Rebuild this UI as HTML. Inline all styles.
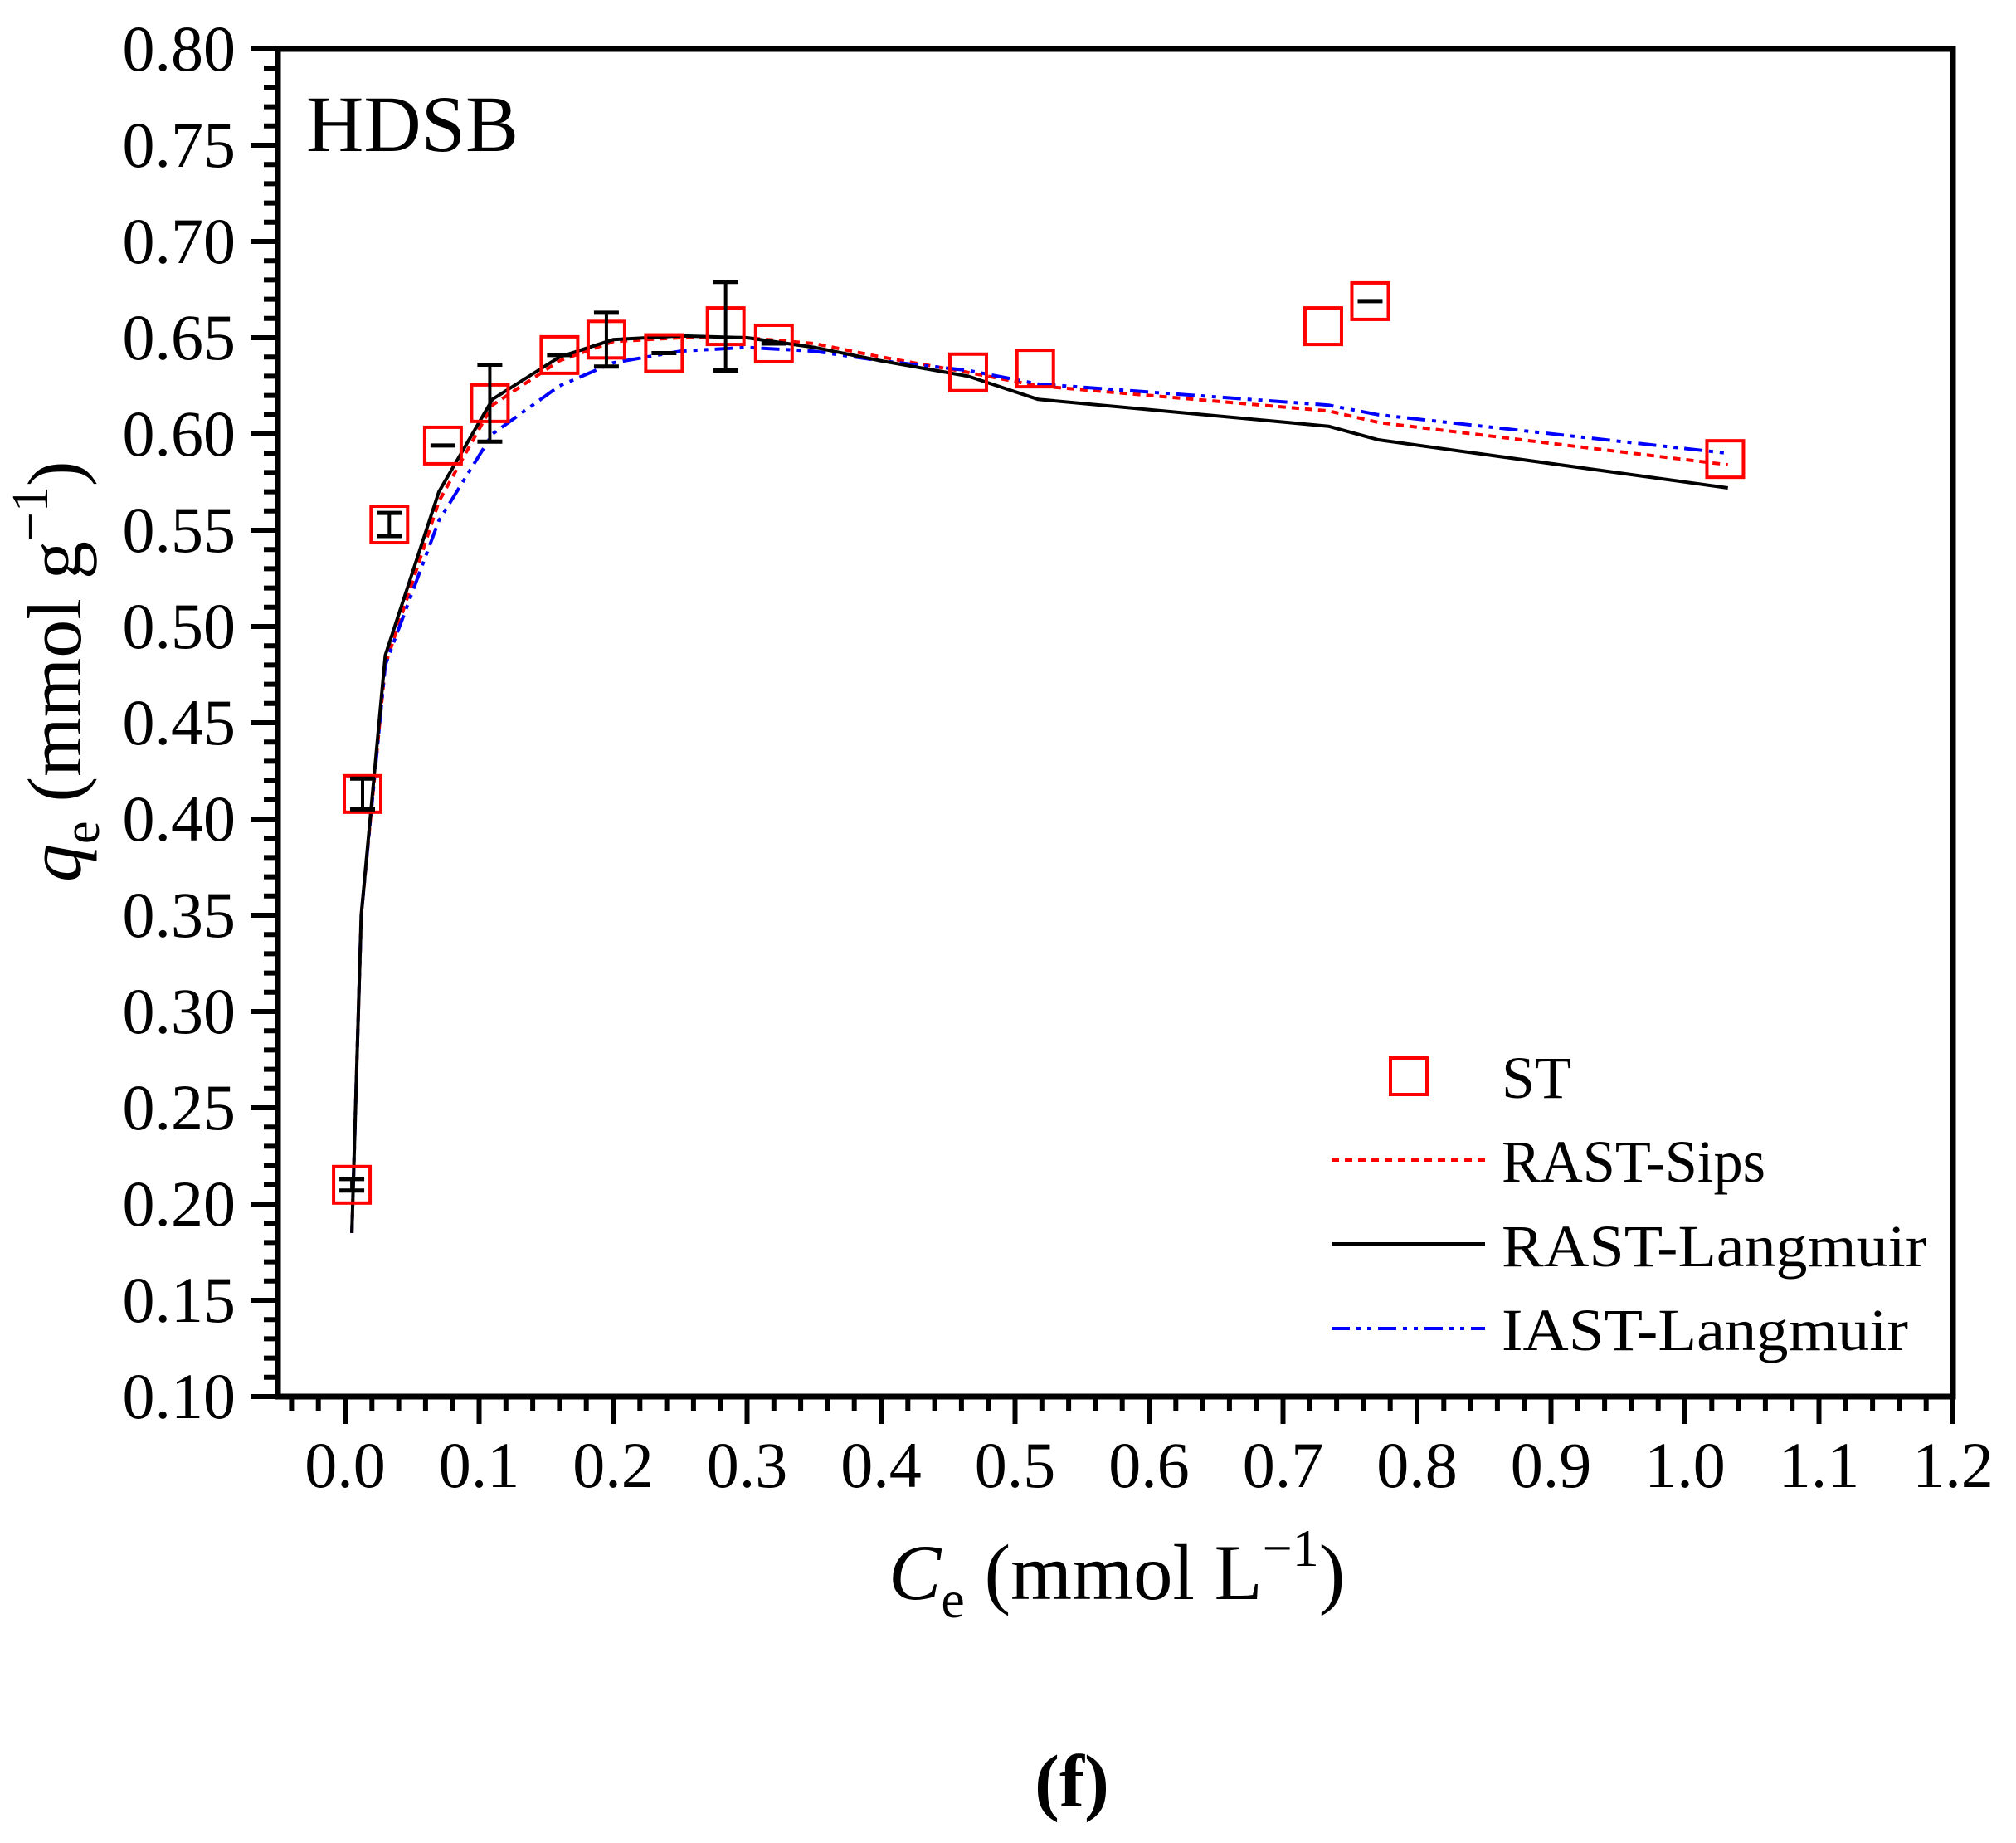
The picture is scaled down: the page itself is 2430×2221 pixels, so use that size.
<!DOCTYPE html>
<html><head><meta charset="utf-8"><style>
html,body{margin:0;padding:0;background:#fff;}
svg{display:block;}
text{font-family:"Liberation Serif",serif;fill:#000;}
</style></head><body>
<svg id="s" width="2430" height="2221" viewBox="0 0 2430 2221" xmlns="http://www.w3.org/2000/svg">
<rect width="2430" height="2221" fill="#fff"/>
<g id="plot"></g>
<text x="369" y="182" font-size="96">HDSB</text>
<!-- legend -->
<rect x="1676" y="1275" width="44" height="44" fill="none" stroke="#f00" stroke-width="4"/>
<text x="1810" y="1323" font-size="72">ST</text>
<line x1="1605" y1="1398" x2="1790" y2="1398" stroke="#f00" stroke-width="4" stroke-dasharray="9,7"/>
<text x="1810" y="1424" font-size="72" textLength="318" lengthAdjust="spacingAndGlyphs">RAST-Sips</text>
<line x1="1605" y1="1499" x2="1790" y2="1499" stroke="#000" stroke-width="4"/>
<text x="1810" y="1526" font-size="72" textLength="512" lengthAdjust="spacingAndGlyphs">RAST-Langmuir</text>
<line x1="1605" y1="1601" x2="1790" y2="1601" stroke="#00f" stroke-width="4" stroke-dasharray="22,8,5,8,5,8"/>
<text x="1810" y="1627" font-size="72" textLength="490" lengthAdjust="spacingAndGlyphs">IAST-Langmuir</text>
<!-- x title -->
<text x="1071" y="1927" font-size="95"><tspan font-style="italic">C</tspan><tspan font-size="64" dy="22">e</tspan><tspan dy="-22"> (mmol L</tspan><tspan font-size="64" dy="-40">−1</tspan><tspan dy="40">)</tspan></text>
<!-- y title -->
<text transform="translate(97,1063) rotate(-90)" font-size="92"><tspan font-style="italic">q</tspan><tspan font-size="62" dy="22">e</tspan><tspan dy="-22"> (mmol g</tspan><tspan font-size="62" dy="-40">−1</tspan><tspan dy="40">)</tspan></text>
<text x="1292" y="2177" font-size="90" font-weight="bold" text-anchor="middle">(f)</text>
</svg>
<script>
(function(){
var NS="http://www.w3.org/2000/svg",g=document.getElementById("plot");
function X(v){return 416+v*1615;}
function Y(q){return 1683-(q-0.1)*2320;}
function el(t,a){var e=document.createElementNS(NS,t);for(var k in a)e.setAttribute(k,a[k]);g.appendChild(e);return e;}
var L=335,R=2354,T=59,B=1683;
el("rect",{x:L,y:T,width:R-L,height:B-T,fill:"none",stroke:"#000","stroke-width":7});
for(var i=-2;i<=60;i++){var v=i*0.02,x=X(v);if(x<L+5||x>R+2)continue;var maj=(i%5==0);
el("line",{x1:x,y1:B,x2:x,y2:B+(maj?33:17),stroke:"#000","stroke-width":6});
if(maj){var t=el("text",{x:x,y:1792,"font-size":78,"text-anchor":"middle"});t.textContent=(v).toFixed(1);}}
for(var j=10;j<=80;j++){var q=j/100,y=Y(q),maj=(j%5==0);
el("line",{x1:L,y1:y,x2:L-(maj?33:17),y2:y,stroke:"#000","stroke-width":6});
if(maj){var t=el("text",{x:284,y:y+26,"font-size":78,"text-anchor":"end"});t.textContent=q.toFixed(2);}}
function path(pts,st){var d="";pts.forEach(function(p,i){d+=(i?"L":"M")+X(p[0]).toFixed(1)+","+Y(p[1]).toFixed(1);});
var a={d:d,fill:"none","stroke-width":4,"stroke-linejoin":"round"};for(var k in st)a[k]=st[k];el("path",a);}
var black=[[0.005,0.185],[0.012,0.35],[0.03,0.485],[0.07,0.57],[0.11,0.618],[0.16,0.64],[0.2,0.649],[0.25,0.651],[0.3,0.65],[0.35,0.645],[0.4,0.638],[0.465,0.63],[0.517,0.618],[0.734,0.604],[0.771,0.597],[1.032,0.572]];
var red=[[0.005,0.185],[0.012,0.35],[0.03,0.48],[0.07,0.565],[0.11,0.615],[0.16,0.638],[0.2,0.648],[0.25,0.65],[0.3,0.65],[0.35,0.647],[0.4,0.64],[0.465,0.632],[0.517,0.625],[0.734,0.612],[0.771,0.606],[1.032,0.584]];
var blue=[[0.005,0.185],[0.012,0.35],[0.03,0.48],[0.07,0.555],[0.11,0.6],[0.16,0.625],[0.2,0.637],[0.25,0.643],[0.3,0.645],[0.35,0.643],[0.4,0.638],[0.465,0.633],[0.517,0.626],[0.734,0.615],[0.771,0.61],[1.032,0.59]];
path(red,{stroke:"#f00","stroke-dasharray":"9,7"});
path(blue,{stroke:"#00f","stroke-dasharray":"22,8,5,8,5,8"});
path(black,{stroke:"#000"});
var pts=[[0.005,0.21,0.003],[0.013,0.413,0.008],[0.033,0.553,0.006],[0.073,0.594,0],[0.108,0.616,0.02],[0.16,0.641,0],[0.195,0.649,0.014],[0.238,0.642,0],[0.284,0.656,0.023],[0.32,0.647,0],[0.465,0.632,0],[0.515,0.634,0],[0.73,0.656,0],[0.765,0.669,0],[1.03,0.587,0]];
pts.forEach(function(p){var x=X(p[0]),y=Y(p[1]);
el("rect",{x:x-22,y:y-22,width:44,height:44,fill:"none",stroke:"#f00","stroke-width":4});});
pts.forEach(function(p,i){var x=X(p[0]),y=Y(p[1]);if(i>=10&&i!=13)return;
var e=p[2]*2320;
if(e>0){el("line",{x1:x,y1:y-e,x2:x,y2:y+e,stroke:"#000","stroke-width":4});
el("line",{x1:x-15,y1:y-e,x2:x+15,y2:y-e,stroke:"#000","stroke-width":5});
el("line",{x1:x-15,y1:y+e,x2:x+15,y2:y+e,stroke:"#000","stroke-width":5});}
else el("line",{x1:x-15,y1:y,x2:x+15,y2:y,stroke:"#000","stroke-width":5});});
})();
</script>
</body></html>
